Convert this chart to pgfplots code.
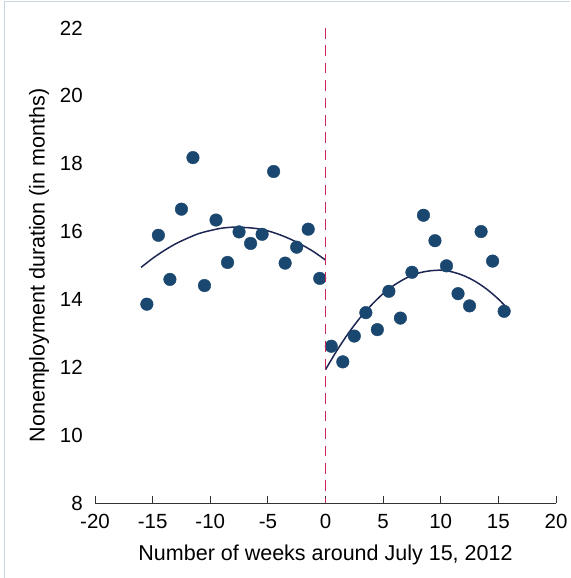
\documentclass[border=0pt]{standalone}
\usepackage{fontspec}
\setmainfont{Liberation Sans}
\usepackage{pgfplots}
\pgfplotsset{compat=1.18}
\definecolor{mk}{RGB}{26,71,111}
\definecolor{fitc}{RGB}{30,38,84}
\definecolor{redline}{RGB}{204,40,85}
\definecolor{framec}{RGB}{200,214,226}
\definecolor{axc}{RGB}{51,51,51}
\begin{document}
\begin{tikzpicture}
\path[use as bounding box] (-95pt,-75pt) rectangle (475pt,503pt);
\draw[framec, line width=1pt] (-90.7pt,-75pt) -- (-90.7pt,501pt) -- (475pt,501pt);
\begin{axis}[
 at={(0pt,0pt)}, anchor=south west,
 scale only axis, width=461pt, height=475pt,
 xmin=-20, xmax=20, ymin=8, ymax=22,
 clip=false,
 axis line style={draw=none},
 xtick={-20,-15,...,20}, xticklabels={-20,-15,-10,-5,0,5,10,15,20},
 ytick={8,10,...,22}, yticklabels={8,10,12,14,16,18,20,22},
 tick align=inside, xtick pos=left, ytick pos=left,
 major tick length=7pt,
 xtick style={axc, line width=0.9pt},
 ytick style={draw=none},
 tick label style={font=\fontsize{20.5}{24}\selectfont},
 xticklabel style={anchor=north, inner sep=0pt, yshift=-11pt},
 yticklabel style={anchor=east, inner sep=0pt, xshift=-12pt},
 xlabel={Number of weeks around July 15, 2012},
 ylabel={Nonemployment duration (in months)},
 every axis x label/.style={at={(axis description cs:0.5,0)}, yshift=-51.5pt, anchor=center, font=\fontsize{21.5}{25}\selectfont},
 every axis y label/.style={at={(axis description cs:0,0.5)}, xshift=-56pt, rotate=90, anchor=center, font=\fontsize{21.5}{25}\selectfont},
]
\coordinate (ctop) at (axis cs:0,22);
\coordinate (cbot) at (axis cs:0,8);
\addplot[only marks, mark=*, mark size=6.3pt, mark options={draw=mk, fill=mk}] coordinates {
(-15.5,13.86) (-14.5,15.89) (-13.5,14.59) (-12.5,16.66) (-11.5,18.18) (-10.5,14.41)
(-9.5,16.34) (-8.5,15.09) (-7.5,15.99) (-6.5,15.65) (-5.5,15.92) (-4.5,17.77)
(-3.5,15.07) (-2.5,15.54) (-1.5,16.07) (-0.5,14.62)
(0.5,12.62) (1.5,12.16) (2.5,12.92) (3.5,13.61) (4.5,13.11) (5.5,14.24)
(6.5,13.45) (7.5,14.80) (8.5,16.48) (9.5,15.73) (10.5,14.99) (11.5,14.17)
(12.5,13.81) (13.5,16.00) (14.5,15.13) (15.5,13.65)
};
\addplot[color=fitc, line width=1.5pt, smooth] coordinates {
(-16,14.945) (-15,15.21) (-14,15.44) (-13,15.64) (-12,15.80) (-11,15.94) (-10,16.03)
(-9,16.10) (-8,16.13) (-7,16.12) (-6,16.09) (-5,16.02) (-4,15.91) (-3,15.77)
(-2,15.60) (-1,15.40) (0,15.16)
};
\addplot[color=fitc, line width=1.5pt, smooth] coordinates {
(0,11.93) (1,12.50) (2,13.01) (3,13.46) (4,13.84) (5,14.17) (6,14.43) (7,14.63)
(8,14.77) (9,14.84) (10,14.86) (11,14.81) (12,14.70) (13,14.53) (14,14.30)
(15,14.01) (16,13.66)
};
\draw[axc, line width=0.9pt] (axis cs:-20,8) -- (axis cs:20,8);
\end{axis}
\draw[draw=redline, line width=1.8pt, dash pattern=on 10.7pt off 6.7pt] (ctop) -- (cbot);
\end{tikzpicture}
\end{document}
